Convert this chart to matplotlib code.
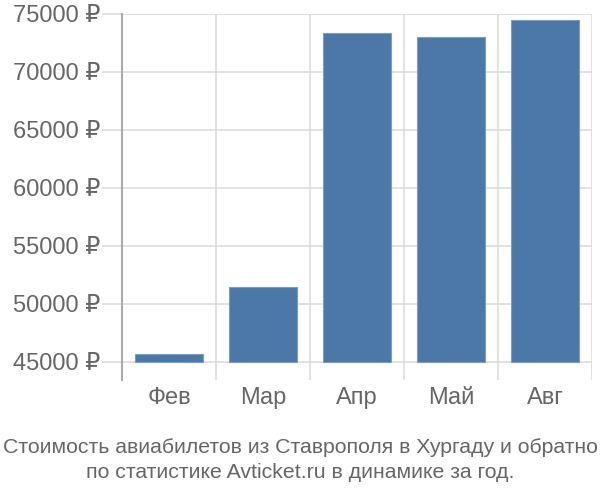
import matplotlib
matplotlib.use("Agg")
import matplotlib.pyplot as plt
import numpy as np

months = ['Фев', 'Мар', 'Апр', 'Май', 'Авг']
prices = [45700, 51470, 73340, 73020, 74450]
y_ticks = [45000, 50000, 55000, 60000, 65000, 70000, 75000]
base = 45000
caption = "Стоимость авиабилетов из Ставрополя в Хургаду и обратно\nпо статистике Avticket.ru в динамике за год."

plt.rcParams['font.family'] = ['Liberation Sans', 'DejaVu Sans']

fig = plt.figure(figsize=(6, 5), dpi=100)
ax = fig.add_axes([122 / 600, 1 - 380 / 500, 470 / 600, 366 / 500])

x = np.arange(len(months))
heights = [p - base for p in prices]
ax.bar(x, heights, bottom=base, width=0.72, color='#4c78a8',
       edgecolor='#7b9cc4', linewidth=0.8, zorder=3)

ax.set_xlim(-0.5, len(months) - 0.5)
ax.set_ylim(base - 18 * 1000 / 11.6, 75000)

# vertical separators between months
for b in np.arange(0.5, len(months) - 0.5 + 0.01, 1.0):
    ax.axvline(b, color='#dddddd', linewidth=1.2, zorder=1)

ax.set_yticks(y_ticks)
ax.set_yticklabels([f"{t} ₽" for t in y_ticks])
ax.yaxis.grid(True, color='#dddddd', linewidth=1.2, zorder=1)
ax.tick_params(axis='y', length=14.5, width=1.2, color='#dddddd',
               labelsize=17, labelcolor='#666666', pad=1)

ax.set_xticks(x)
ax.set_xticklabels(months)
ax.tick_params(axis='x', length=0, labelsize=17, labelcolor='#666666', pad=5)

for s in ['top', 'right', 'bottom']:
    ax.spines[s].set_visible(False)
ax.spines['left'].set_color('#aaaaaa')
ax.spines['left'].set_linewidth(1.5)
ax.set_axisbelow(True)

fig.text(0.5, 1 - 460 / 500, caption, ha='center', va='center',
         fontsize=15.3, color='#666666', linespacing=1.38)

fig.savefig('out.png', dpi=100)
